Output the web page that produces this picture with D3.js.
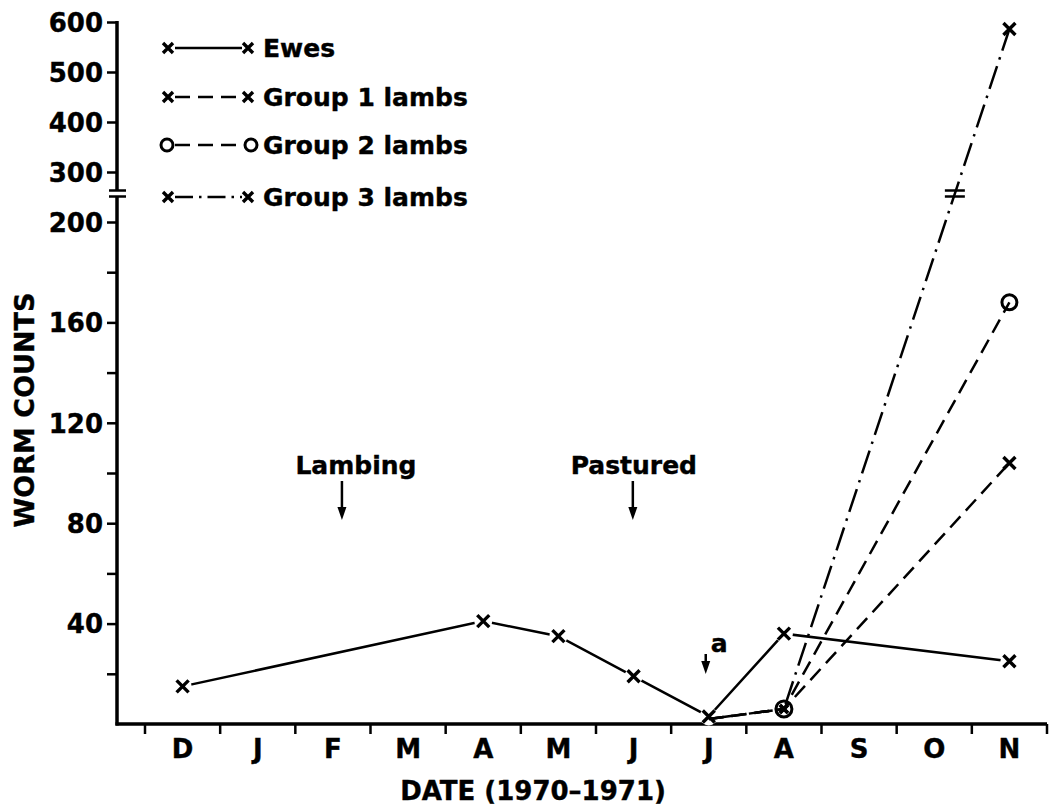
<html>
<script src="https://d3js.org/d3.v7.min.js"></script>
<style>
  body { margin: 0; background: #fff; }
  text { font-family: "DejaVu Sans", sans-serif; font-weight: bold; fill: #000; stroke: #000; stroke-width: 0.4px; }
</style>
<body>
<svg width=1051 height=806 id="chart"></svg>
<script>

// month labels (Dec 1970 .. Nov 1971)
var months = ["D","J","F","M","A","M","J","J","A","S","O","N"];

// month index + worm count
var ewesMonth = [0, 4, 5, 6, 7, 8, 11];
var ewesCount = [15, 41, 35, 19, 3, 36, 25];

var lambMonth = [7, 8, 11];
var group1Count = [2, 6, 104];
var group2Count = [2, 6, 168];
var group3Count = [2, 6, 586];

var seriesNames = ["Ewes", "Group 1 lambs", "Group 2 lambs", "Group 3 lambs"];

var lowTicks = [20, 40, 60, 80, 100, 120, 140, 160, 180, 200];
var highTicks = [300, 400, 500, 600];

var notes = ["Lambing", "Pastured", "a"];
var noteMonth = [2.62, 6.49, 7.46];

var svg = d3.select("svg");

var x = d3.scaleLinear().domain([0, 12]).range([145, 1047]);
var yLow = d3.scaleLinear().domain([0, 200]).range([724, 222]);
var yHigh = d3.scaleLinear().domain([300, 600]).range([172, 22]);
function y(v) { return v > 250 ? yHigh(v) : yLow(v); }
function mx(m) { return x(m + 0.5); }

var axisX = 117, axisY = 724;

// ---------- axes ----------
// y axis, lower part
svg.append("g")
  .attr("transform", "translate(" + axisX + ",0)")
  .call(d3.axisLeft(yLow).tickValues(lowTicks).tickSize(10).tickPadding(4)
    .tickFormat(function(d) { return d % 40 == 0 ? d : ""; }))
  .call(function(g) { g.select(".domain").remove(); });

// y axis, upper part
svg.append("g")
  .attr("transform", "translate(" + axisX + ",0)")
  .call(d3.axisLeft(yHigh).tickValues(highTicks).tickSize(10).tickPadding(4))
  .call(function(g) { g.select(".domain").remove(); });

svg.selectAll(".tick line").attr("stroke", "#000").attr("stroke-width", 2.5);
svg.selectAll(".tick text").style("font-size", "26px").attr("dy", "0.36em");

svg.append("line").attr("x1", axisX).attr("x2", axisX).attr("y1", 197).attr("y2", axisY + 1.5)
  .attr("stroke", "#000").attr("stroke-width", 3.5);
svg.append("line").attr("x1", axisX).attr("x2", axisX).attr("y1", 21).attr("y2", 190)
  .attr("stroke", "#000").attr("stroke-width", 3.5);
// break marks
[190.5, 196.5].forEach(function(b) {
  svg.append("line").attr("x1", axisX - 8).attr("x2", axisX + 9).attr("y1", b).attr("y2", b)
    .attr("stroke", "#000").attr("stroke-width", 2.5);
});

// x axis line + month boundary ticks
svg.append("line").attr("x1", axisX - 1.5).attr("x2", x(12)).attr("y1", axisY).attr("y2", axisY)
  .attr("stroke", "#000").attr("stroke-width", 3.5);

svg.append("g")
  .selectAll("line")
  .data(d3.range(0, 13))
  .enter()
  .append("line")
    .attr("x1", function(d) { return x(d); })
    .attr("x2", function(d) { return x(d); })
    .attr("y1", axisY)
    .attr("y2", axisY + 10)
    .attr("stroke", "#000")
    .attr("stroke-width", 2.5);

svg.append("g")
  .selectAll("text")
  .data(months)
  .enter()
  .append("text")
    .attr("x", function(d, i) { return mx(i); })
    .attr("y", 758)
    .attr("text-anchor", "middle")
    .style("font-size", "26px")
    .text(function(d) { return d; });

// axis titles
svg.append("text")
  .attr("x", 533).attr("y", 800)
  .attr("text-anchor", "middle")
  .style("font-size", "26px")
  .text("DATE (1970\u20131971)");

svg.append("text")
  .attr("transform", "translate(34,410) rotate(-90)")
  .attr("text-anchor", "middle")
  .style("font-size", "27px")
  .text("WORM COUNTS");

// ---------- series ----------
function xMark(g, cx, cy, s) {
  g.append("path")
    .attr("d", "M" + (cx - s) + "," + (cy - s) + "L" + (cx + s) + "," + (cy + s) +
               "M" + (cx + s) + "," + (cy - s) + "L" + (cx - s) + "," + (cy + s))
    .attr("stroke", "#000").attr("stroke-width", 3.4).attr("fill", "none");
}
function oMark(g, cx, cy, r) {
  g.append("circle").attr("cx", cx).attr("cy", cy).attr("r", r)
    .attr("fill", "none").attr("stroke", "#000").attr("stroke-width", 3);
}

var line = d3.line()
  .x(function(d) { return mx(d[0]); })
  .y(function(d) { return y(d[1]); });

var plot = svg.append("g");

// ewes
var ewes = d3.zip(ewesMonth, ewesCount);
plot.append("path").datum(ewes).attr("d", line)
  .attr("fill", "none").attr("stroke", "#000").attr("stroke-width", 2.5);
ewes.forEach(function(d) {
  plot.append("circle").attr("cx", mx(d[0])).attr("cy", y(d[1])).attr("r", 9).attr("fill", "#fff");
  xMark(plot, mx(d[0]), y(d[1]), 6);
});

// lambs
var lambs = [
  { v: group1Count, dash: "15,8", mark: "x" },
  { v: group2Count, dash: "15,8", mark: "o" },
  { v: group3Count, dash: "24,7,2.5,7", mark: "x" }
];
lambs.forEach(function(s) {
  var pts = d3.zip(lambMonth, s.v);
  plot.append("path").datum(pts).attr("d", line)
    .attr("fill", "none").attr("stroke", "#000").attr("stroke-width", 2.5)
    .attr("stroke-dasharray", s.dash);
  pts.forEach(function(d, i) {
    if (i == 0) return;
    if (s.mark == "o") oMark(plot, mx(d[0]), y(d[1]), i == 1 ? 8 : 7.5);
    else xMark(plot, mx(d[0]), y(d[1]), i == 1 ? 4 : 6);
  });
});

// break mark on the group 3 line
var ax = mx(lambMonth[1]), ay = y(group3Count[1]);
var nx = mx(lambMonth[2]), ny = y(group3Count[2]);
var bx = ax + (193.5 - ay) / (ny - ay) * (nx - ax);
[190.5, 196.5].forEach(function(b) {
  svg.append("line").attr("x1", bx - 10).attr("x2", bx + 10).attr("y1", b).attr("y2", b)
    .attr("stroke", "#000").attr("stroke-width", 2.5);
});

// ---------- annotations ----------
function arrow(cx, y1, y2) {
  svg.append("line").attr("x1", cx).attr("x2", cx).attr("y1", y1).attr("y2", y2 - 10)
    .attr("stroke", "#000").attr("stroke-width", 2.5);
  svg.append("path")
    .attr("d", "M" + (cx - 4.5) + "," + (y2 - 13) + "L" + (cx + 4.5) + "," + (y2 - 13) + "L" + cx + "," + y2 + "Z")
    .attr("fill", "#000");
}
notes.forEach(function(t, i) {
  var cx = x(noteMonth[i]);
  if (t == "a") {
    arrow(cx, 654, 674);
    svg.append("text").attr("x", cx + 5).attr("y", 652).style("font-size", "25px").text(t);
  } else {
    svg.append("text").attr("x", i == 0 ? cx + 14 : cx + 1).attr("y", 474).attr("text-anchor", "middle")
      .style("font-size", "25px").text(t);
    arrow(cx, 481, 520);
  }
});

// ---------- legend ----------
var legY = [48, 97, 145, 197];
var legDash = [null, "15,8", "15,8", "18,6,2.5,6"];
var legMark = ["x", "x", "o", "x"];
seriesNames.forEach(function(name, i) {
  var g = svg.append("g");
  var yy = legY[i];
  var l = g.append("line").attr("x1", 175).attr("x2", 242).attr("y1", yy).attr("y2", yy)
    .attr("stroke", "#000").attr("stroke-width", 2.5);
  if (legDash[i]) l.attr("stroke-dasharray", legDash[i]);
  if (legMark[i] == "o") { oMark(g, 167, yy, 6); oMark(g, 251, yy, 6); }
  else { xMark(g, 168, yy, 5); xMark(g, 248, yy, 5); }
  g.append("text").attr("x", 263).attr("y", yy + 9).style("font-size", "25px").text(name);
});

</script>
</body>
</html>
